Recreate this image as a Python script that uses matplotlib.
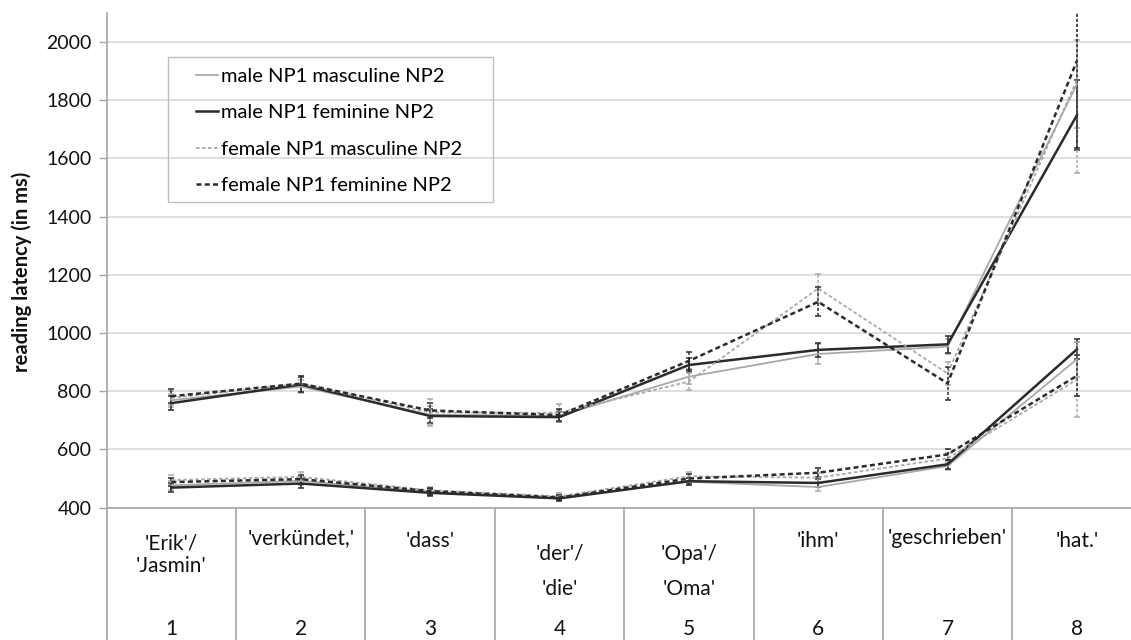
import matplotlib
matplotlib.use("Agg")
import matplotlib.pyplot as plt
import matplotlib.transforms as mtransforms
from matplotlib.patches import Rectangle

plt.rcParams["font.family"] = ["Lato", "DejaVu Sans"]

# ---------------------------------------------------------------------------
# Data
# ---------------------------------------------------------------------------

regions = [1, 2, 3, 4, 5, 6, 7, 8]
region_words = ["'Erik'/\n'Jasmin'", "'verkündet,'", "'dass'", "'der'/\n'die'",
                "'Opa'/\n'Oma'", "'ihm'", "'geschrieben'", "'hat.'"]

conditions = ["male NP1 masculine NP2", "male NP1 feminine NP2",
              "female NP1 masculine NP2", "female NP1 feminine NP2"]

# upper set of curves
upper_mm = [769, 816, 719, 716, 850, 928, 953, 1855]
upper_mf = [759, 823, 715, 711, 890, 942, 961, 1748]
upper_fm = [777, 826, 727, 726, 833, 1153, 861, 1870]
upper_ff = [783, 826, 734, 718, 904, 1107, 827, 1935]
upper_mm_err = [22, 22, 30, 20, 25, 35, 25, 150]
upper_mf_err = [25, 25, 25, 18, 25, 25, 30, 120]
upper_fm_err = [25, 28, 45, 30, 30, 50, 40, 320]
upper_ff_err = [25, 28, 25, 20, 30, 50, 57, 300]

# lower set of curves
lower_mm = [477, 492, 455, 435, 489, 471, 543, 910]
lower_mf = [469, 483, 451, 432, 491, 485, 549, 944]
lower_fm = [495, 506, 460, 439, 508, 503, 569, 840]
lower_ff = [488, 498, 457, 435, 500, 520, 583, 853]
lower_mm_err = [15, 15, 12, 8, 12, 15, 15, 60]
lower_mf_err = [15, 15, 12, 8, 12, 15, 15, 35]
lower_fm_err = [18, 15, 12, 10, 15, 15, 20, 130]
lower_ff_err = [15, 15, 12, 10, 15, 15, 20, 70]

# ---------------------------------------------------------------------------
# Styling
# ---------------------------------------------------------------------------

LIGHT = "#a9a9a9"
DARK = "#2b2b2b"
AXIS = "#a6a6a6"
GRID = "#d9d9d9"
TEXT = "#111111"
DOT = (0, (2, 1.3))

styles = [
    dict(color=LIGHT, lw=1.3, ls="-"),
    dict(color=DARK, lw=1.8, ls="-"),
    dict(color=LIGHT, lw=1.3, ls=DOT),
    dict(color=DARK, lw=1.8, ls=DOT),
]

W, H = 1131, 640
fig = plt.figure(figsize=(W / 100, H / 100), dpi=100)
ax = fig.add_axes([106.7 / W, 132.3 / H, (1141.6 - 106.7) / W, 495 / H])

upper = [(upper_mm, upper_mm_err), (upper_mf, upper_mf_err),
         (upper_fm, upper_fm_err), (upper_ff, upper_ff_err)]
lower = [(lower_mm, lower_mm_err), (lower_mf, lower_mf_err),
         (lower_fm, lower_fm_err), (lower_ff, lower_ff_err)]

handles = []
for group, with_label in ((lower, False), (upper, True)):
    for (vals, errs), st, name in zip(group, styles, conditions):
        eb = ax.errorbar(regions, vals, yerr=errs, color=st["color"],
                         lw=st["lw"], ls=st["ls"], elinewidth=1.1,
                         capsize=2.5, capthick=1.1,
                         label=name if with_label else None)
        eb[2][0].set_linestyle(st["ls"] if st["ls"] != "-" else "solid")
        if with_label:
            handles.append(eb[0])

ax.set_xlim(0.5, 8.5)
ax.set_ylim(400, 2100)
ax.set_yticks(range(400, 2001, 200))
ax.set_xticks([])
ax.tick_params(axis="y", direction="out", length=6, width=1, color=AXIS,
               labelsize=14, labelcolor=TEXT, pad=5)
for s in ("top", "right"):
    ax.spines[s].set_visible(False)
for s in ("left", "bottom"):
    ax.spines[s].set_color(AXIS)
    ax.spines[s].set_linewidth(1.2)
ax.yaxis.grid(True, color=GRID, lw=1.2)
ax.set_axisbelow(True)

# category separators running down into the label area
trans = mtransforms.blended_transform_factory(ax.transData, ax.transAxes)
for k in range(9):
    b = 0.5 + k
    ax.plot([b, b], [0, -0.3], transform=trans, color=AXIS, lw=1.2,
            clip_on=False)

# category labels (words + region numbers)
lab_trans = mtransforms.blended_transform_factory(ax.transData, fig.transFigure)
for i, (r, word) in enumerate(zip(regions, region_words)):
    lines = word.split("\n")
    if len(lines) == 1:
        ys = [538 if len(word) > 10 else 541]
    elif i in (3, 4):
        ys = [554, 589]
    else:
        ys = [543, 566]
    for line, py in zip(lines, ys):
        fig.text(r, 1 - py / H, line, ha="center", va="center", fontsize=15,
                 color=TEXT, transform=lab_trans)
    fig.text(r, 1 - 629 / H, str(r), ha="center", va="center", fontsize=15,
             color=TEXT, transform=lab_trans)

fig.text(22 / W, 1 - 272 / H, "reading latency (in ms)", rotation=90,
         ha="center", va="center", fontsize=14.5, fontweight="bold",
         color=TEXT)

# legend: plain box drawn separately so the padding matches the reference
fig.patches.append(Rectangle((168 / W, 1 - 202 / H), (493 - 168) / W,
                             (202 - 57) / H, transform=fig.transFigure,
                             fill=False, edgecolor="#bfbfbf", lw=1.0))
ax.legend(handles=handles, labels=conditions, loc="upper left",
          bbox_to_anchor=(196 / W, 1 - 68 / H),
          bbox_transform=fig.transFigure, borderaxespad=0, borderpad=0,
          fontsize=14.5, frameon=False, handlelength=1.1,
          handletextpad=0.15, labelspacing=0.95)

fig.savefig("out.png", dpi=100, facecolor="white")
